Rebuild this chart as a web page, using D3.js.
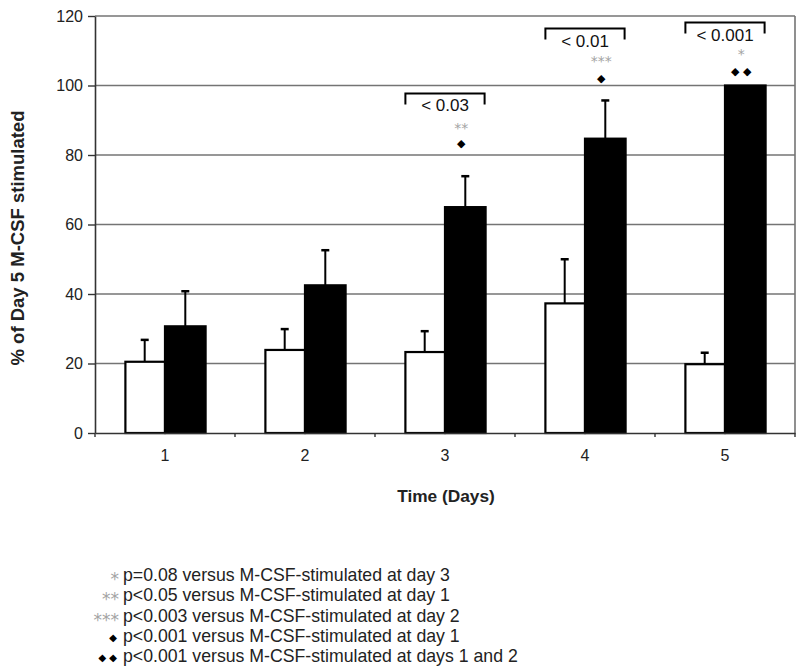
<!DOCTYPE html>
<html>
<head>
<meta charset="utf-8">
<script src="https://cdn.jsdelivr.net/npm/d3@7"></script>
<style>
  body { margin: 0; background: #fff; }
  svg { display: block; }
  text { font-family: "Liberation Sans", Arial, Helvetica, sans-serif; }
</style>
</head>
<body>
<svg id="chart" width="800" height="672"></svg>
<script>
// ---- data ----
const days = ["1", "2", "3", "4", "5"];
const seriesNames = ["control", "M-CSF"];
const controlValues = [20.5, 23.9, 23.3, 37.3, 19.8];
const controlErrors = [6.3, 6.0, 6.0, 12.7, 3.3];
const mcsfValues = [30.7, 42.5, 65.0, 84.7, 100.0];
const mcsfErrors = [10.1, 10.1, 8.9, 11.0, 0];
const yTicks = [0, 20, 40, 60, 80, 100, 120];
const yTitle = "% of Day 5 M-CSF stimulated";
const xTitle = "Time (Days)";
// bracket annotations over the pair of bars at a day
const bracketDays = ["3", "4", "5"];
const bracketLabels = ["< 0.03", "< 0.01", "< 0.001"];
const bracketLevels = [97.7, 116.4, 118.1];
// significance marks above the M-CSF bar
const starTexts = ["**", "***", "*"];
const starLevels = [88.5, 108.0, 110.0];
const diamondTexts = ["\u25C6", "\u25C6", "\u25C6 \u25C6"];
const diamondLevels = [83.4, 102.3, 104.3];
// footnotes
const noteSymbols = ["*", "**", "***", "\u25C6", "\u25C6 \u25C6"];
const noteTexts = [
  "p=0.08 versus M-CSF-stimulated at day 3",
  "p<0.05 versus M-CSF-stimulated at day 1",
  "p<0.003 versus M-CSF-stimulated at day 2",
  "p<0.001 versus M-CSF-stimulated at day 1",
  "p<0.001 versus M-CSF-stimulated at days 1 and 2"
];

// ---- layout ----
const svg = d3.select("#chart");
const L = 95, T = 16, R = 795, B = 433;

const x0 = d3.scaleBand().domain(days).range([L, R]).paddingInner(0.42).paddingOuter(0.21);
const x1 = d3.scaleBand().domain(seriesNames).range([0, x0.bandwidth()]);
const y = d3.scaleLinear().domain([0, 120]).range([B, T]);

const rows = days.map((d, i) => ({
  day: d,
  bars: [
    { s: "control", v: controlValues[i], e: controlErrors[i] },
    { s: "M-CSF", v: mcsfValues[i], e: mcsfErrors[i] }
  ]
}));

// gridlines
svg.append("g").selectAll("line").data(yTicks.filter(t => t > 0)).join("line")
  .attr("x1", L).attr("x2", R)
  .attr("y1", d => y(d)).attr("y2", d => y(d))
  .attr("stroke", "#747474").attr("stroke-width", 1.6);
// right frame
svg.append("line").attr("x1", R).attr("x2", R).attr("y1", y(120)).attr("y2", y(0))
  .attr("stroke", "#747474").attr("stroke-width", 1.6);

// bars
const groups = svg.append("g").selectAll("g").data(rows).join("g")
  .attr("transform", d => `translate(${x0(d.day)},0)`);
groups.selectAll("rect").data(d => d.bars).join("rect")
  .attr("x", d => x1(d.s) + (d.s === "control" ? 1 : 0))
  .attr("y", d => y(d.v))
  .attr("width", d => x1.bandwidth() - (d.s === "control" ? 1 : 0))
  .attr("height", d => y(0) - y(d.v))
  .attr("fill", d => d.s === "control" ? "#fff" : "#000")
  .attr("stroke", "#000").attr("stroke-width", 2.2);

// error bars (upper only)
const eb = groups.selectAll("g.err").data(d => d.bars.filter(b => b.e > 0)).join("g").attr("class", "err");
eb.append("line")
  .attr("x1", d => x1(d.s) + x1.bandwidth() / 2).attr("x2", d => x1(d.s) + x1.bandwidth() / 2)
  .attr("y1", d => y(d.v)).attr("y2", d => y(d.v + d.e))
  .attr("stroke", "#000").attr("stroke-width", 2);
eb.append("line")
  .attr("x1", d => x1(d.s) + x1.bandwidth() / 2 - 4).attr("x2", d => x1(d.s) + x1.bandwidth() / 2 + 4)
  .attr("y1", d => y(d.v + d.e)).attr("y2", d => y(d.v + d.e))
  .attr("stroke", "#000").attr("stroke-width", 2.5);

// y axis
const yAxis = svg.append("g").attr("transform", `translate(${L},0)`)
  .call(d3.axisLeft(y).tickValues(yTicks).tickSize(7).tickPadding(5).tickSizeOuter(0));
yAxis.select(".domain").attr("stroke", "#333").attr("stroke-width", 1.6);
yAxis.selectAll(".tick line").attr("stroke", "#333").attr("stroke-width", 1.4);
yAxis.selectAll("text").attr("font-size", 16).attr("fill", "#222");

// x axis
const xAxis = svg.append("g").attr("transform", `translate(0,${B})`)
  .call(d3.axisBottom(x0).tickSize(0).tickPadding(17));
xAxis.select(".domain").attr("stroke", "#333").attr("stroke-width", 1.6);
xAxis.selectAll("text").attr("font-size", 16).attr("fill", "#222");
// boundary ticks between categories
svg.append("g").selectAll("line").data(d3.range(days.length + 1)).join("line")
  .attr("x1", i => L + i * x0.step()).attr("x2", i => L + i * x0.step())
  .attr("y1", B).attr("y2", B + 4)
  .attr("stroke", "#333").attr("stroke-width", 1.4);

// axis titles
svg.append("text")
  .attr("transform", `translate(24,238) rotate(-90)`)
  .attr("text-anchor", "middle").attr("font-size", 18.5).attr("font-weight", "bold")
  .attr("fill", "#222").text(yTitle);
svg.append("text")
  .attr("x", (L + R) / 2 + 1).attr("y", 502)
  .attr("text-anchor", "middle").attr("font-size", 17.3).attr("font-weight", "bold")
  .attr("fill", "#222").text(xTitle);

// brackets
const br = svg.append("g").selectAll("g").data(bracketDays.map((d, i) => ({
  day: d, label: bracketLabels[i], level: bracketLevels[i]
}))).join("g");
br.append("path")
  .attr("d", d => {
    const xa = x0(d.day) + 1, xb = x0(d.day) + x0.bandwidth() - 1, yt = y(d.level);
    return `M${xa},${yt + 11}V${yt}H${xb}V${yt + 11}`;
  })
  .attr("fill", "none").attr("stroke", "#000").attr("stroke-width", 2);
br.append("text")
  .attr("x", d => x0(d.day) + x0.bandwidth() / 2)
  .attr("y", d => y(d.level) + 18)
  .attr("text-anchor", "middle").attr("font-size", 17).attr("fill", "#111")
  .text(d => d.label);

// stars and diamonds over the M-CSF bars
const marks = bracketDays.map((d, i) => ({
  cx: x0(d) + x1("M-CSF") + x1.bandwidth() / 2 - 4,
  star: starTexts[i], sl: starLevels[i], dia: diamondTexts[i], dl: diamondLevels[i]
}));
svg.append("g").selectAll("text").data(marks).join("text")
  .attr("x", d => d.cx).attr("y", d => y(d.sl) + 8)
  .attr("text-anchor", "middle").attr("font-size", 14)
  .style("font-family", "'DejaVu Sans', sans-serif").attr("fill", "#a3a3a3")
  .text(d => d.star);
svg.append("g").selectAll("text").data(marks).join("text")
  .attr("x", d => d.cx).attr("y", d => y(d.dl) + 4)
  .attr("text-anchor", "middle").attr("font-size", 11)
  .style("font-family", "'DejaVu Sans', sans-serif").attr("fill", "#000")
  .text(d => d.dia);

// footnotes
const notes = svg.append("g").selectAll("g").data(noteTexts.map((t, i) => ({ t, s: noteSymbols[i], i }))).join("g")
  .attr("transform", d => `translate(0,${581 + d.i * 20.3})`);
notes.append("text")
  .attr("x", d => d.s.indexOf("*") >= 0 ? 119 : 117)
  .attr("y", d => d.s.indexOf("*") >= 0 ? 4 : -1)
  .attr("text-anchor", "end")
  .attr("font-size", d => d.s.indexOf("*") >= 0 ? 17 : 10)
  .style("font-family", "'DejaVu Sans', sans-serif")
  .attr("fill", d => d.s.indexOf("*") >= 0 ? "#a3a3a3" : "#000")
  .text(d => d.s);
notes.append("text")
  .attr("x", 123).attr("y", 0)
  .attr("font-size", 17.7).attr("fill", "#222")
  .text(d => d.t);
</script>
</body>
</html>
